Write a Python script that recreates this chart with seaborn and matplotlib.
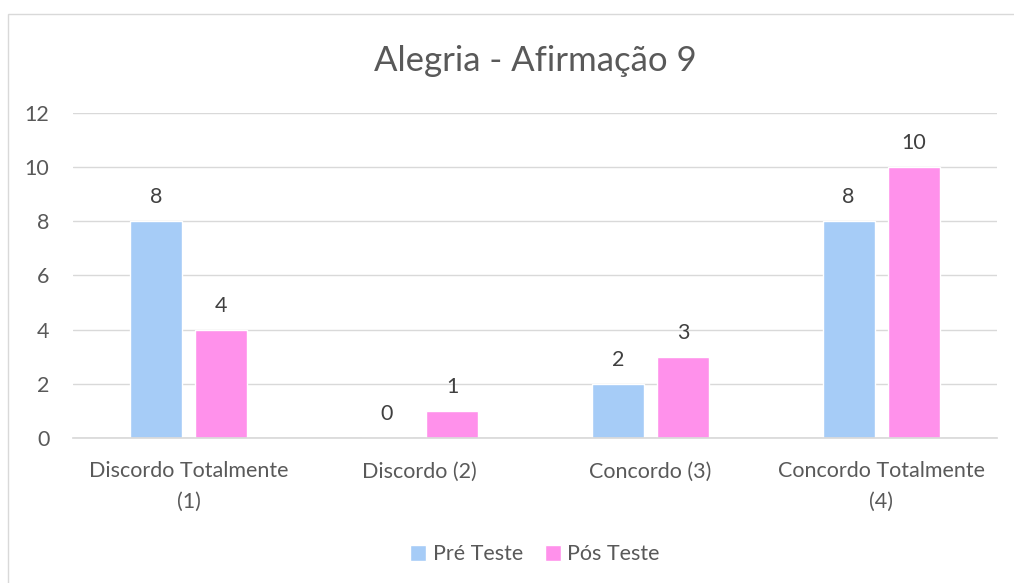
import matplotlib
matplotlib.use("Agg")
import matplotlib.pyplot as plt
import seaborn as sns
import pandas as pd
from matplotlib.patches import Rectangle

# dados do gráfico
categorias = ["Discordo Totalmente\n(1)", "Discordo (2)", "Concordo (3)", "Concordo Totalmente\n(4)"]
pre_teste = [8, 0, 2, 8]
pos_teste = [4, 1, 3, 10]
series = ["Pré Teste", "Pós Teste"]
cores = ["#A6CCF7", "#FF91EB"]

df = pd.DataFrame({
    "categoria": categorias * 2,
    "valor": pre_teste + pos_teste,
    "serie": [series[0]] * len(categorias) + [series[1]] * len(categorias),
})

sns.set_theme(style="white")
plt.rcParams["font.family"] = ["Lato", "DejaVu Sans"]
texto = "#595959"
fs = 15.5

fig = plt.figure(figsize=(10.14, 5.83), dpi=100)
ax = fig.add_axes([0.072, 0.249, 0.911, 0.557])

sns.barplot(data=df, x="categoria", y="valor", hue="serie", palette=cores,
            width=0.565, gap=0.2, saturation=1, ax=ax, legend=True)

for cont in ax.containers:
    ax.bar_label(cont, padding=10, fontsize=fs, color="#404040")

ax.set_ylim(0, 12)
ax.set_yticks(range(0, 13, 2))
ax.yaxis.grid(True, color="#D9D9D9", linewidth=1)
ax.set_axisbelow(True)
for s in ["top", "right", "left"]:
    ax.spines[s].set_visible(False)
ax.spines["bottom"].set_color("#D9D9D9")
ax.tick_params(axis="both", length=0, labelsize=fs, colors=texto)
ax.tick_params(axis="x", pad=17)
ax.tick_params(axis="y", pad=17)
for lbl in ax.get_xticklabels():
    lbl.set_linespacing(1.65)
ax.set_xlabel("")
ax.set_ylabel("")

ax.set_title("Alegria - Afirmação 9", fontsize=25, color=texto, pad=30)

ax.legend(loc="upper center", bbox_to_anchor=(0.5, -0.268), ncol=2, frameon=False,
          fontsize=fs, handlelength=0.75, handleheight=0.75, columnspacing=1.0,
          handletextpad=0.3, labelcolor=texto)

# borda da área do gráfico
fig.patches.append(Rectangle((0.008, -0.05), 1.1, 1.026, transform=fig.transFigure,
                             fill=False, edgecolor="#D9D9D9", linewidth=1))

fig.savefig("out.png", dpi=100)
